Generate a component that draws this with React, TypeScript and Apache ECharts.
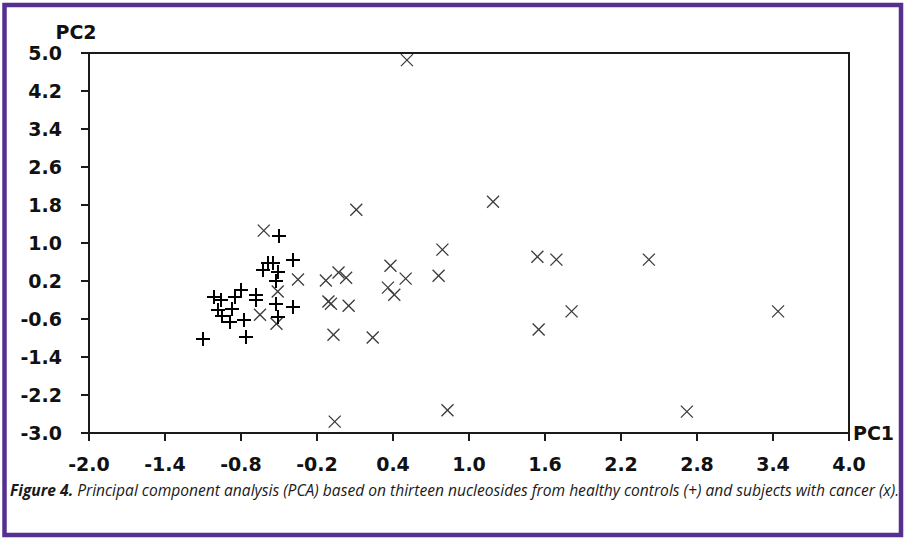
import React, { useEffect, useRef } from "react";
import * as echarts from "echarts";

// PCA scores (PC1, PC2) for healthy controls, drawn as "+"
const controlPC1 = [
  -0.5, -0.39, -0.63, -0.59, -0.55, -0.51, -0.52, -0.68, -0.68, -0.52, -0.39, -0.51,
  -1.01, -0.96, -0.85, -0.8, -0.98, -0.95, -0.87, -0.89, -0.78, -0.76, -1.1,
];
const controlPC2 = [
  1.15, 0.65, 0.44, 0.57, 0.57, 0.4, 0.21, -0.09, -0.21, -0.28, -0.34, -0.55,
  -0.13, -0.19, -0.13, 0.02, -0.42, -0.53, -0.38, -0.67, -0.63, -0.97, -1.03,
];

// PCA scores (PC1, PC2) for subjects with cancer, drawn as "x"
const cancerPC1 = [
  0.51, -0.62, 0.11, 1.19, 0.79, 0.38, 1.54, 1.69, 2.42, 0.76, 0.5, -0.03, 0.03, -0.13,
  -0.35, -0.51, 0.36, 0.41, -0.11, -0.09, 0.05, -0.65, -0.52, 1.81, 3.44, 1.55, -0.07,
  0.24, -0.06, 0.83, 2.72,
];
const cancerPC2 = [
  4.85, 1.26, 1.7, 1.87, 0.86, 0.52, 0.71, 0.65, 0.65, 0.31, 0.25, 0.38, 0.27, 0.21,
  0.23, -0.02, 0.06, -0.09, -0.23, -0.28, -0.32, -0.51, -0.7, -0.44, -0.44, -0.82, -0.93,
  -0.99, -2.76, -2.52, -2.55,
];

// Axis ranges and tick steps
const pc1Range = [-2.0, 4.0];
const pc1Step = 0.6;
const pc2Range = [-3.0, 5.0];
const pc2Step = 0.8;

const captionLead = "Figure 4.";
const captionBody =
  " Principal component analysis (PCA) based on thirteen nucleosides from healthy controls (+) and subjects with cancer (x).";

// The value axes start at zero so the tick sequence begins at the axis minimum;
// labels are shifted back to the real PC values.
const SHIFT_X = -pc1Range[0];
const SHIFT_Y = -pc2Range[0];

const AXIS_FONT = "'DejaVu Sans', Arial, sans-serif";
const CAPTION_FONT = "'Open Sans', Lato, sans-serif";

export default function App() {
  const ref = useRef<HTMLDivElement>(null);

  useEffect(() => {
    if (!ref.current) return;
    const chart = echarts.init(ref.current, undefined, { renderer: "svg" });

    const controlData = controlPC1.map((x, i) => [x + SHIFT_X, controlPC2[i] + SHIFT_Y]);
    const cancerData = cancerPC1.map((x, i) => [x + SHIFT_X, cancerPC2[i] + SHIFT_Y]);

    const plusItem = (_p: any, api: any) => {
      const c = api.coord([api.value(0), api.value(1)]);
      const x = Math.round(c[0]);
      const y = Math.round(c[1]);
      const h = 7;
      const style = { stroke: "#000", lineWidth: 2 };
      return {
        type: "group",
        children: [
          { type: "line", shape: { x1: x - h, y1: y, x2: x + h, y2: y }, style },
          { type: "line", shape: { x1: x, y1: y - h, x2: x, y2: y + h }, style },
        ],
      };
    };

    const crossItem = (_p: any, api: any) => {
      const c = api.coord([api.value(0), api.value(1)]);
      const x = c[0];
      const y = c[1];
      const h = 6;
      const style = { stroke: "#3a3a3a", lineWidth: 1.3 };
      return {
        type: "group",
        children: [
          { type: "line", shape: { x1: x - h, y1: y - h, x2: x + h, y2: y + h }, style },
          { type: "line", shape: { x1: x - h, y1: y + h, x2: x + h, y2: y - h }, style },
        ],
      };
    };

    const axisLabelStyle = {
      fontFamily: AXIS_FONT,
      fontWeight: "bold" as const,
      fontSize: 19,
      color: "#111",
    };

    chart.setOption({
      animation: false,
      backgroundColor: "#fff",
      grid: {
        left: 89,
        right: 63,
        top: 53,
        bottom: 106,
        show: true,
        borderColor: "#1a1a1a",
        borderWidth: 2,
        backgroundColor: "transparent",
      },
      xAxis: {
        type: "value",
        min: 0,
        max: pc1Range[1] - pc1Range[0],
        interval: pc1Step,
        name: "PC1",
        nameLocation: "end",
        nameGap: 4,
        nameTextStyle: { ...axisLabelStyle, verticalAlign: "middle", padding: [8, 0, 0, 0] },
        axisLine: { show: true, onZero: false, lineStyle: { color: "#1a1a1a", width: 2 } },
        axisTick: { show: true, inside: false, length: 8, lineStyle: { color: "#1a1a1a", width: 2 } },
        splitLine: { show: false },
        axisLabel: {
          ...axisLabelStyle,
          margin: 21,
          formatter: (v: number) => (v - SHIFT_X).toFixed(1),
        },
      },
      yAxis: {
        type: "value",
        min: 0,
        max: pc2Range[1] - pc2Range[0],
        interval: pc2Step,
        name: "PC2",
        nameLocation: "end",
        nameGap: 12,
        nameTextStyle: { ...axisLabelStyle, align: "center", padding: [0, 26, 0, 0] },
        axisLine: { show: true, onZero: false, lineStyle: { color: "#1a1a1a", width: 2 } },
        axisTick: { show: true, inside: false, length: 8, lineStyle: { color: "#1a1a1a", width: 2 } },
        splitLine: { show: false },
        axisLabel: {
          ...axisLabelStyle,
          margin: 27,
          padding: [8, 0, 0, 0],
          formatter: (v: number) => (v - SHIFT_Y).toFixed(1),
        },
      },
      series: [
        {
          name: "Cancer",
          type: "custom",
          renderItem: crossItem,
          data: cancerData,
          encode: { x: 0, y: 1 },
          clip: false,
          z: 2,
        },
        {
          name: "Healthy controls",
          type: "custom",
          renderItem: plusItem,
          data: controlData,
          encode: { x: 0, y: 1 },
          clip: false,
          z: 3,
        },
      ],
      graphic: [
        {
          type: "rect",
          shape: { x: 4.5, y: 5, width: 896.5, height: 530 },
          style: { fill: "none", stroke: "#553090", lineWidth: 4.5 },
          silent: true,
        },
        {
          type: "text",
          left: 10,
          top: 482,
          style: {
            text: `{b|${captionLead}}{i|${captionBody}}`,
            rich: {
              b: {
                fontFamily: CAPTION_FONT,
                fontStyle: "italic",
                fontWeight: "bold",
                fontSize: 15.6,
                fill: "#1a1a1a",
              },
              i: {
                fontFamily: CAPTION_FONT,
                fontStyle: "italic",
                fontSize: 15.6,
                fill: "#1a1a1a",
              },
            },
          },
        },
      ],
    });

    return () => chart.dispose();
  }, []);

  return (
    <div
      ref={ref}
      style={{ position: "absolute", left: 0, top: 0, width: 912, height: 539, background: "#fff" }}
    />
  );
}
